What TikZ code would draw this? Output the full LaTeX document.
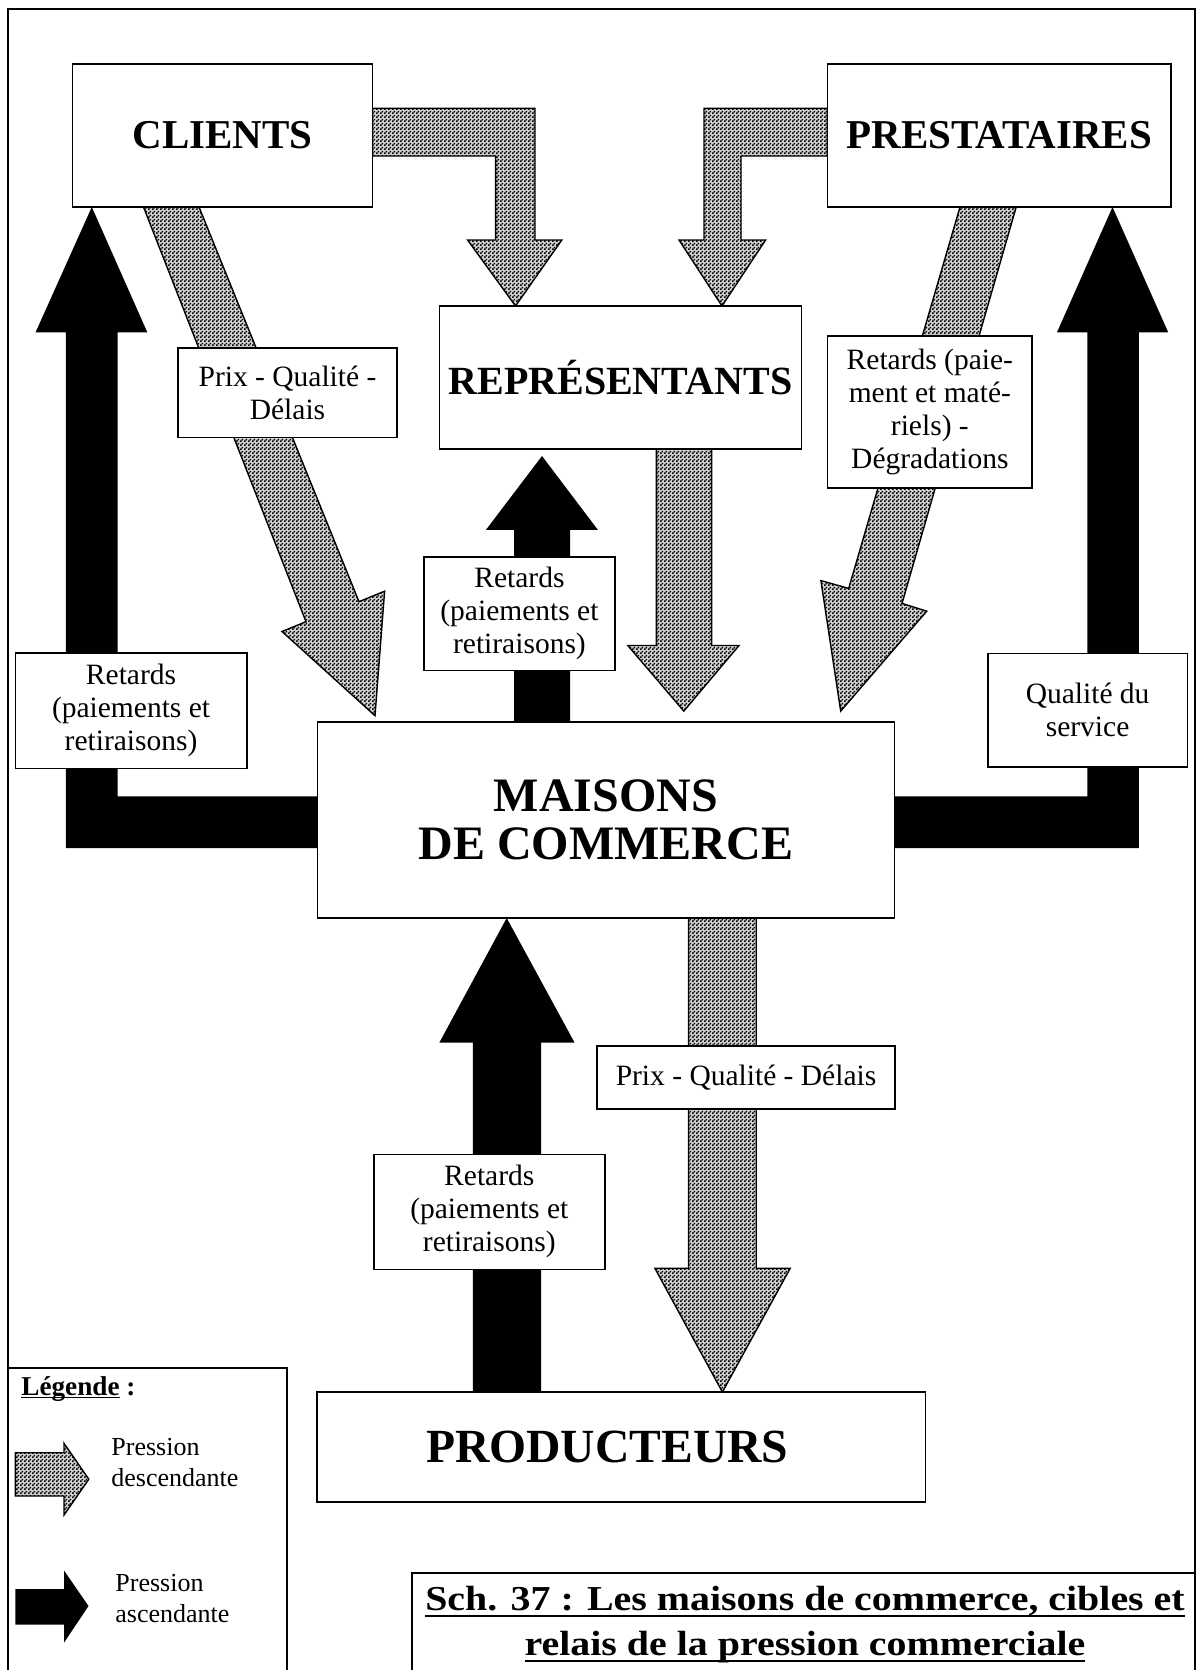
\documentclass[tikz,border=0pt]{standalone}
\usepackage{fontspec}
\setmainfont{Liberation Serif}
\newfontfamily\titlefont[FakeStretch=1.14]{Liberation Serif}
\usetikzlibrary{patterns.meta}
\pgfdeclarelayer{bg}
\pgfsetlayers{bg,main}
\tikzdeclarepattern{
  name=wordchecker,
  type=uncolored,
  bottom left={(0pt,0pt)},
  top right={(2pt,2pt)},
  tile size={(2pt,2pt)},
  code={
    \pgfpathrectangle{\pgfpoint{0pt}{0pt}}{\pgfpoint{1pt}{1pt}}
    \pgfpathrectangle{\pgfpoint{1pt}{1pt}}{\pgfpoint{1pt}{1pt}}
    \pgfusepath{fill}
  }
}
\newcommand\ulfix[3]{\setbox0\hbox{#3}\rlap{\rule[-#1]{\wd0}{#2}}\box0}
\begin{document}
\begin{tikzpicture}[x=0.5pt,y=-0.5pt,
  mainbox/.style={draw, fill=white, line width=0.8pt, inner sep=0pt, align=center,
     font=\fontsize{20.5pt}{24pt}\selectfont\bfseries},
  lab/.style={draw, fill=white, line width=0.8pt, inner sep=0pt, align=center,
     font=\fontsize{14.75pt}{16.5pt}\selectfont},
  grayblock/.style={draw=black, line width=0.7pt, preaction={fill=black!18},
     pattern=wordchecker, pattern color=black},
  blackblock/.style={fill=black},
  legtext/.style={inner sep=0pt, align=left, anchor=north west,
     font=\fontsize{13pt}{15.5pt}\selectfont},
  frameline/.style={line width=0.7pt}
]
\useasboundingbox (0,0) rectangle (1197,1670);

% frame, legend box, title box
\draw[frameline] (8,1700) -- (8,9) -- (1195,9) -- (1195,1700);
\draw[frameline] (8,1368) -- (287,1368) -- (287,1700);
\draw[frameline] (412,1700) -- (412,1573) -- (1195,1573);

% main boxes
\node[mainbox, minimum width=149.85pt, minimum height=71.5pt] (clients) at (222.5,135.5) {CLIENTS};
\node[mainbox, minimum width=171.95pt, minimum height=71.5pt] (prest) at (999.25,135.5) {PRESTATAIRES};
\node[mainbox, minimum width=181.1pt, minimum height=71.5pt, font=\fontsize{20pt}{24pt}\selectfont\bfseries] (rep) at (620.4,377.5) {REPRÉSENTANTS};
\node[mainbox, minimum width=288.4pt, minimum height=98pt, font=\fontsize{24pt}{23.8pt}\selectfont\bfseries] (maisons) at (606,820) {MAISONS\\DE COMMERCE};
\node[mainbox, minimum width=304.3pt, minimum height=54.85pt, font=\fontsize{23.8pt}{26pt}\selectfont\bfseries] (prod) at (621.3,1446.85) {PRODUCTEURS\hspace*{14pt}};

% labels
\node[lab, minimum width=109.5pt, minimum height=44.75pt] (l1) at (287.5,392.75) {Prix - Qualité -\\Délais};
\node[lab, minimum width=102.35pt, minimum height=76pt] (l2) at (929.85,411.7) {Retards (paie-\\ment et maté-\\riels) -\\Dégradations};
\node[lab, minimum width=95.75pt, minimum height=56.75pt] (l3) at (519.45,613.75) {Retards\\(paiements et\\retiraisons)};
\node[lab, minimum width=115.75pt, minimum height=57.55pt] (l4) at (131.05,710.75) {Retards\\(paiements et\\retiraisons)};
\node[lab, minimum width=99.9pt, minimum height=56.85pt] (l5) at (1087.6,710.15) {Qualité du\\service};
\node[lab, minimum width=149pt, minimum height=31.5pt] (l6) at (746,1077.2) {Prix - Qualité - Délais};
\node[lab, minimum width=115.6pt, minimum height=57.5pt] (l7) at (489.3,1211.8) {Retards\\(paiements et\\retiraisons)};

% block arrows (background layer)
\begin{pgfonlayer}{bg}
  % clients -> representants
  \draw[grayblock] (372.4,108.3) -- (535,108.3) -- (535,240) -- (561.8,240) -- (515.5,306)
     -- (467.6,240) -- (495.6,240) -- (495.6,156) -- (372.4,156) -- cycle;
  % prestataires -> representants
  \draw[grayblock] (827.3,108.3) -- (704,108.3) -- (704,240) -- (679,240) -- (722,306)
     -- (765.6,240) -- (741,240) -- (741,156) -- (827.3,156) -- cycle;
  % clients -> maisons
  \draw[grayblock] (143.5,207) -- (199,207) -- (359,601.7) -- (384.6,591.2) -- (375,715.7)
     -- (282,631.5) -- (306,621.7) -- cycle;
  % prestataires -> maisons
  \draw[grayblock] (960,207) -- (1016.2,207) -- (902,603.4) -- (926.7,611.2) -- (840.7,711.1)
     -- (820.9,580.6) -- (848.7,588.4) -- cycle;
  % representants -> maisons
  \draw[grayblock] (656.4,449) -- (711.6,449) -- (711.6,645.5) -- (739,645.5) -- (683.8,711.1)
     -- (627.8,645.5) -- (656.4,645.5) -- cycle;
  % maisons -> producteurs
  \draw[grayblock] (688.5,918) -- (756.2,918) -- (756.2,1268.3) -- (790.2,1268.3) -- (722.4,1392)
     -- (654.9,1268.3) -- (688.5,1268.3) -- cycle;
  % maisons -> clients (black L)
  \fill[blackblock] (91.8,207) -- (147.3,332.3) -- (117.5,332.3) -- (117.5,796.4) -- (320,796.4)
     -- (320,848) -- (65.8,848) -- (65.8,332.3) -- (35.6,332.3) -- cycle;
  % maisons -> prestataires (black L)
  \fill[blackblock] (1112.5,207) -- (1168.2,332.3) -- (1138.8,332.3) -- (1138.8,848) -- (892,848)
     -- (892,796.4) -- (1087.4,796.4) -- (1087.4,332.3) -- (1057,332.3) -- cycle;
  % maisons -> representants
  \fill[blackblock] (542,456) -- (597.8,529.8) -- (570.2,529.8) -- (570.2,725) -- (514,725)
     -- (514,529.8) -- (486,529.8) -- cycle;
  % producteurs -> maisons
  \fill[blackblock] (506.7,918) -- (574.6,1042.7) -- (541,1042.7) -- (541,1395) -- (472.8,1395)
     -- (472.8,1042.7) -- (439.3,1042.7) -- cycle;
\end{pgfonlayer}

% legend
\node[inner sep=0pt, anchor=base west, font=\fontsize{13.6pt}{15.5pt}\selectfont\bfseries] (legt) at (21,1395) {\ulfix{1.6pt}{0.7pt}{Légende}\ :};
\draw[grayblock] (15.3,1452.7) -- (64,1452.7) -- (64,1443.3) -- (88.8,1479.2) -- (64,1515)
   -- (64,1496) -- (15.3,1496) -- cycle;
\node[legtext] (legd) at (111,1438) {Pression\\descendante};
\fill[blackblock] (15.3,1589) -- (64,1589) -- (64,1570.5) -- (88.5,1606) -- (64,1642.7)
   -- (64,1624.5) -- (15.3,1624.5) -- cycle;
\node[legtext] (lega) at (115,1574) {Pression\\ascendante};

% title
\node[inner sep=0pt, anchor=base, font=\fontsize{17.5pt}{20pt}\titlefont\bfseries] (t1) at (805,1610) {\ulfix{3.6pt}{1.2pt}{Sch. 37 : Les maisons de commerce, cibles et}};
\node[inner sep=0pt, anchor=base, font=\fontsize{17.5pt}{20pt}\titlefont\bfseries] (t2) at (805,1655) {\ulfix{3.6pt}{1.2pt}{relais de la pression commerciale}};
\end{tikzpicture}
\end{document}
